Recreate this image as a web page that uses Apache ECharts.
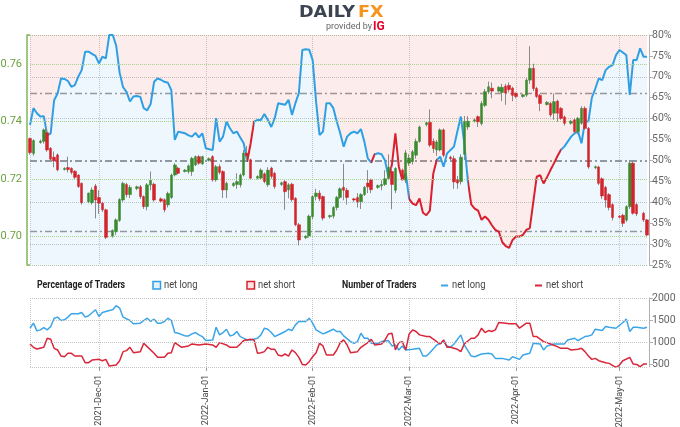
<!DOCTYPE html>
<html><head><meta charset="utf-8">
<script src="https://cdn.jsdelivr.net/npm/echarts@6/dist/echarts.min.js"></script>
<style>html,body{margin:0;padding:0;background:#fff}#c{width:680px;height:427px}</style>
</head><body><div id="c"></div>
<script>
// ---- categories: calendar days 2021-11-11 .. 2022-05-09 ----
const MON = ['Jan','Feb','Mar','Apr','May','Jun','Jul','Aug','Sep','Oct','Nov','Dec'];
const startDay = Date.UTC(2021, 10, 11);
const dayCount = 180;
const days = [];
for (let i = 0; i < dayCount; i++) {
  const d = new Date(startDay + i * 864e5);
  days.push(d.getUTCFullYear() + '-' + MON[d.getUTCMonth()] + '-' + String(d.getUTCDate()).padStart(2, '0'));
}

// ---- price candles [dayIndex, open, close, low, high] ----
const candles = [
[0,.7340,.7291,.7284,.7343],[1,.7288,.7333,.7280,.7337],[3,.7326,.7331,.7322,.7336],[4,.7330,.7370,.7322,.7375],
[5,.7360,.7300,.7294,.7376],[6,.7306,.7268,.7262,.7310],[7,.7275,.7262,.7240,.7295],[8,.7283,.7231,.7226,.7288],
[10,.7232,.7236,.7229,.7240],[11,.7239,.7232,.7222,.7277],[12,.7236,.7222,.7215,.7240],[13,.7226,.7205,.7198,.7230],
[14,.7213,.7173,.7168,.7216],[15,.7184,.7117,.7110,.7187],[17,.7120,.7150,.7115,.7152],[18,.7117,.7161,.7110,.7170],
[19,.7175,.7126,.7062,.7182],[20,.7135,.7115,.7078,.7160],[21,.7115,.7092,.7085,.7120],[22,.7092,.6996,.6990,.7096],
[24,.7000,.7020,.6995,.7024],[25,.7016,.7057,.7005,.7062],[26,.7055,.7128,.7050,.7132],[27,.7126,.7184,.7120,.7190],
[28,.7180,.7145,.7135,.7186],[29,.7145,.7170,.7133,.7178],[31,.7166,.7172,.7160,.7176],[32,.7172,.7138,.7130,.7178],
[33,.7138,.7103,.7095,.7142],[34,.7103,.7179,.7090,.7185],[35,.7178,.7195,.7160,.7225],[36,.7181,.7126,.7120,.7186],
[38,.7130,.7122,.7118,.7135],[39,.7127,.7092,.7083,.7132],[40,.7109,.7149,.7100,.7155],[41,.7135,.7213,.7130,.7218],
[42,.7213,.7248,.7208,.7254],[43,.7237,.7219,.7215,.7242],[45,.7225,.7230,.7222,.7234],[46,.7225,.7245,.7218,.7250],
[47,.7225,.7271,.7210,.7276],[48,.7248,.7277,.7244,.7281],[49,.7277,.7254,.7248,.7282],[50,.7252,.7277,.7248,.7280],
[52,.7264,.7270,.7260,.7274],[53,.7277,.7196,.7190,.7282],[54,.7196,.7242,.7190,.7248],[55,.7242,.7222,.7215,.7250],
[56,.7225,.7161,.7133,.7230],[57,.7161,.7184,.7133,.7190],[59,.7176,.7184,.7172,.7188],[60,.7180,.7190,.7165,.7219],
[61,.7179,.7213,.7170,.7218],[62,.7213,.7289,.7208,.7300],[63,.7289,.7280,.7265,.7314],[64,.7266,.7202,.7196,.7270],
[66,.7202,.7208,.7198,.7212],[67,.7202,.7230,.7196,.7236],[68,.7217,.7190,.7184,.7222],[69,.7179,.7230,.7172,.7240],
[70,.7237,.7208,.7200,.7242],[71,.7219,.7173,.7165,.7224],[73,.7180,.7186,.7175,.7190],[74,.7190,.7155,.7092,.7195],
[75,.7161,.7179,.7132,.7185],[76,.7181,.7127,.7120,.7186],[77,.7132,.7040,.7035,.7136],[78,.7040,.6987,.6968,.7046],
[80,.6995,.7000,.6990,.7003],[81,.7001,.7070,.6995,.7075],[82,.7068,.7138,.7060,.7142],[83,.7138,.7150,.7125,.7165],
[84,.7150,.7130,.7122,.7160],[85,.7138,.7063,.7055,.7142],[87,.7068,.7072,.7062,.7075],[88,.7070,.7100,.7062,.7105],
[89,.7100,.7135,.7090,.7140],[90,.7135,.7165,.7130,.7170],[91,.7170,.7160,.7125,.7252],[92,.7160,.7135,.7110,.7168],
[94,.7130,.7126,.7120,.7134],[95,.7135,.7120,.7100,.7150],[96,.7120,.7145,.7095,.7150],[97,.7145,.7170,.7140,.7175],
[98,.7185,.7172,.7150,.7230],[99,.7196,.7162,.7150,.7200],[101,.7170,.7176,.7165,.7180],[102,.7175,.7180,.7160,.7195],
[103,.7180,.7200,.7175,.7230],[104,.7200,.7240,.7195,.7285],[105,.7225,.7180,.7094,.7240],[106,.7160,.7236,.7150,.7240],
[108,.7230,.7200,.7195,.7235],[109,.7195,.7290,.7185,.7300],[110,.7254,.7272,.7245,.7285],[111,.7260,.7294,.7250,.7300],
[112,.7282,.7330,.7270,.7340],[113,.7330,.7380,.7325,.7385],[115,.7388,.7395,.7382,.7400],[116,.7396,.7317,.7310,.7441],
[117,.7330,.7305,.7290,.7340],[118,.7300,.7328,.7280,.7335],[119,.7300,.7370,.7295,.7375],[120,.7370,.7282,.7275,.7375],
[122,.7275,.7270,.7265,.7280],[123,.7270,.7189,.7165,.7280],[124,.7196,.7185,.7165,.7210],[125,.7190,.7275,.7180,.7285],
[126,.7285,.7400,.7265,.7418],[127,.7380,.7400,.7370,.7418],[129,.7400,.7405,.7396,.7410],[130,.7416,.7398,.7380,.7420],
[131,.7392,.7462,.7385,.7470],[132,.7455,.7503,.7450,.7512],[133,.7503,.7520,.7495,.7538],[134,.7515,.7505,.7480,.7535],
[136,.7505,.7518,.7500,.7522],[137,.7500,.7518,.7470,.7530],[138,.7522,.7498,.7457,.7530],[139,.7525,.7510,.7500,.7535],
[140,.7515,.7490,.7470,.7520],[141,.7497,.7486,.7480,.7500],[143,.7486,.7492,.7482,.7496],[144,.7491,.7543,.7485,.7550],
[145,.7543,.7584,.7530,.7661],[146,.7584,.7514,.7505,.7600],[147,.7514,.7486,.7480,.7520],[148,.7490,.7462,.7435,.7495],
[150,.7458,.7466,.7455,.7470],[151,.7462,.7422,.7415,.7468],[152,.7428,.7468,.7405,.7497],[153,.7470,.7428,.7398,.7475],
[154,.7445,.7410,.7405,.7450],[155,.7415,.7393,.7385,.7420],[157,.7393,.7400,.7388,.7405],[158,.7405,.7364,.7358,.7410],
[159,.7364,.7410,.7355,.7415],[160,.7393,.7445,.7388,.7452],[161,.7445,.7375,.7370,.7452],[162,.7375,.7241,.7235,.7380],
[164,.7238,.7242,.7234,.7246],[165,.7241,.7184,.7178,.7245],[166,.7200,.7140,.7130,.7205],[167,.7170,.7126,.7100,.7175],
[168,.7145,.7100,.7090,.7150],[169,.7110,.7065,.7055,.7115],[171,.7070,.7066,.7062,.7074],[172,.7073,.7045,.7033,.7078],
[173,.7056,.7103,.7050,.7108],[174,.7103,.7254,.7095,.7265],[175,.7254,.7080,.7075,.7265],[176,.7110,.7078,.7070,.7115],
[178,.7080,.7057,.7050,.7085],[179,.7057,.7004,.6996,.7060]
];

// ---- % of traders net long [dayIndex, percent] ----
const pctLong = [[0,58.5],[1,62.5],[2,61.3],[3,60.5],[4,60.6],[5,56.0],[6,56.5],[7,64.4],[8,66.0],[9,69.6],[10,69.5],[11,69.0],[12,67.6],[13,68.0],[14,70.0],[15,71.6],[16,76.0],[17,76.0],[18,75.5],[19,75.0],[20,73.2],[21,74.8],[22,74.4],[23,80.0],[24,80.0],[25,77.5],[26,71.0],[27,67.5],[28,66.4],[29,64.1],[30,65.3],[31,65.4],[32,65.2],[33,62.5],[34,62.0],[35,63.5],[36,68.8],[37,69.6],[38,69.3],[39,68.8],[40,68.6],[41,66.8],[42,54.9],[43,56.9],[44,56.7],[45,56.5],[46,56.0],[47,55.7],[48,56.6],[49,55.5],[50,56.5],[51,52.9],[52,52.7],[53,52.5],[54,60.1],[55,54.5],[56,55.7],[57,59.3],[58,57.7],[59,56.5],[60,56.9],[61,55.5],[62,54.1],[63,49.7],[64,54.0],[65,59.3],[66,59.7],[67,59.7],[68,61.1],[69,59.7],[70,58.0],[71,60.1],[72,63.7],[73,63.5],[74,63.3],[75,64.5],[76,60.9],[77,63.7],[78,66.1],[79,76.4],[80,76.6],[81,76.5],[82,74.0],[83,64.0],[84,56.1],[85,56.9],[86,63.7],[87,63.7],[88,62.5],[89,59.3],[90,56.5],[91,53.3],[92,55.7],[93,56.5],[94,56.9],[95,56.5],[96,57.5],[97,54.5],[98,50.5],[99,49.5],[100,51.5],[101,51.7],[102,51.5],[103,50.0],[104,46.0],[105,49.0],[106,56.5],[107,48.5],[108,45.3],[109,47.0],[110,40.8],[111,39.7],[112,39.3],[113,40.9],[114,37.5],[115,36.9],[116,38.0],[117,46.9],[118,50.1],[119,50.9],[120,48.5],[121,51.7],[122,52.5],[123,53.3],[124,57.0],[125,60.5],[126,54.1],[127,45.3],[128,39.5],[129,38.5],[130,38.0],[131,35.8],[132,36.6],[133,35.8],[134,34.5],[135,33.4],[136,33.0],[137,30.5],[138,29.5],[139,29.1],[140,31.0],[141,31.8],[142,31.8],[143,32.2],[144,33.4],[145,33.8],[146,40.0],[147,46.1],[148,46.5],[149,44.5],[150,46.0],[151,47.7],[152,49.3],[153,51.0],[154,52.5],[155,53.3],[156,54.5],[157,55.7],[158,56.5],[159,56.9],[160,54.1],[161,59.3],[162,59.3],[163,65.0],[164,67.2],[165,69.6],[166,69.2],[167,71.6],[168,72.4],[169,72.8],[170,75.2],[171,76.4],[172,75.8],[173,75.2],[174,65.7],[175,74.0],[176,74.0],[177,76.8],[178,74.8],[179,74.8]];

// day-index ranges where the sentiment line is drawn red
const redRanges = [[63,65],[99,100],[104,109],[110,118],[127,154]];

// ---- number of traders [dayIndex, count] ----
const longCount = [[0,1317],[1,1431],[2,1257],[3,1279],[4,1332],[5,1279],[6,1355],[7,1544],[8,1567],[9,1491],[10,1507],[11,1567],[12,1643],[14,1643],[15,1673],[16,1567],[17,1598],[19,1734],[20,1582],[21,1673],[23,1719],[24,1734],[25,1825],[26,1772],[27,1567],[29,1491],[30,1416],[32,1431],[33,1491],[34,1544],[35,1469],[36,1522],[37,1431],[38,1431],[39,1469],[40,1544],[41,1491],[42,1219],[43,1204],[45,1143],[46,1143],[47,1188],[48,1219],[49,1166],[50,1128],[51,1037],[53,1052],[54,1340],[55,1166],[56,1219],[57,1294],[58,1143],[59,1166],[60,1242],[61,1128],[63,1052],[64,1052],[66,1090],[67,1166],[68,1317],[69,1294],[70,1219],[71,1128],[73,1204],[74,1242],[75,1294],[76,1264],[77,1393],[78,1469],[80,1469],[81,1544],[82,1431],[83,1279],[85,1188],[86,1219],[88,1294],[89,1242],[90,1242],[91,1143],[93,1014],[94,976],[95,1014],[96,1204],[97,1090],[98,1090],[99,976],[101,976],[102,1014],[104,1037],[105,916],[106,938],[107,825],[108,916],[109,825],[111,840],[113,862],[114,688],[115,688],[116,764],[118,938],[119,976],[120,1014],[121,916],[122,885],[123,961],[125,1166],[126,938],[128,688],[129,673],[131,734],[133,749],[134,734],[135,635],[137,635],[139,597],[140,673],[142,613],[143,711],[145,749],[146,976],[148,961],[149,825],[150,916],[152,961],[154,961],[155,961],[156,1052],[158,1090],[159,1037],[161,1128],[162,1143],[163,1166],[164,1294],[166,1264],[167,1355],[168,1340],[170,1317],[172,1446],[173,1522],[174,1242],[175,1340],[176,1340],[178,1317],[179,1340]];
const shortCount = [[0,961],[1,885],[2,847],[4,885],[5,1090],[6,1067],[7,862],[8,825],[9,688],[10,673],[11,749],[12,749],[13,688],[15,688],[16,537],[17,537],[18,597],[20,613],[21,582],[22,613],[23,461],[25,484],[26,582],[27,787],[28,810],[29,885],[30,764],[32,787],[33,976],[34,900],[36,749],[37,658],[39,658],[40,749],[41,764],[42,991],[44,885],[46,916],[47,961],[49,938],[51,961],[53,938],[54,885],[55,991],[57,938],[58,885],[60,885],[61,961],[62,1037],[64,1067],[65,1052],[66,749],[67,764],[68,787],[69,885],[70,840],[71,840],[72,711],[73,688],[74,734],[75,688],[76,825],[77,764],[78,658],[79,499],[80,484],[81,560],[82,673],[83,764],[84,976],[85,916],[86,711],[88,711],[89,825],[90,991],[91,1052],[92,938],[93,764],[95,787],[96,885],[98,991],[99,1067],[100,938],[102,961],[103,1052],[104,1188],[105,1204],[106,825],[107,991],[108,1014],[109,825],[110,1188],[111,1279],[112,1242],[113,1166],[115,1128],[116,1128],[118,1014],[119,961],[120,1052],[121,885],[122,885],[124,840],[125,787],[126,961],[128,1090],[129,1090],[130,1166],[131,1317],[132,1219],[133,1264],[134,1242],[135,1279],[136,1446],[138,1431],[139,1416],[141,1416],[142,1317],[144,1431],[145,1431],[146,1128],[147,1128],[149,1014],[150,991],[151,961],[153,900],[154,862],[156,862],[157,825],[159,840],[160,862],[161,787],[162,688],[163,613],[164,635],[165,582],[166,560],[167,537],[168,522],[170,431],[171,484],[172,582],[174,658],[175,507],[176,499],[177,446],[178,507],[179,507]];

// ---- axis ticks ----
const priceTicks = [0.70, 0.72, 0.74, 0.76];
const countTicks = [500, 1000, 1500, 2000];

// ---- styling ----
const BLUE = '#2f9fe4', RED = '#d9202e', GREEN_UP = '#3b8b2e', RED_DN = '#d3232b', WICK = '#8a8a8a';
const FONT = 'Roboto, sans-serif';
const isMonthStart = (i, v) => /-01$/.test(v);
const gridLine = (i, v) => i === 0 || isMonthStart(i, v);

const wickData = candles.map(c => [c[0], c[1], c[2], c[3], c[4]]);
const bodyData = candles.map(c => [c[0], c[1], c[2], Math.min(c[1], c[2]), Math.max(c[1], c[2])]);

const pieces = [];
let prev = -1;
redRanges.forEach(r => {
  pieces.push({ gte: prev, lt: r[0], color: BLUE });
  pieces.push({ gte: r[0], lt: r[1], color: RED });
  prev = r[1];
});
pieces.push({ gte: prev, lte: dayCount, color: BLUE });

const dotted = (c) => ({ type: 'dotted', color: c, width: 1 });
const dashDot = (c, w) => ({ type: [7, 3, 2, 3], color: c, width: w });

const chart = echarts.init(document.getElementById('c'), null, { renderer: 'canvas' });

const xBase = {
  type: 'category', data: days, boundaryGap: false,
  axisLine: { show: false },
  splitLine: { show: true, interval: gridLine, lineStyle: dotted('#c9c9c9') }
};

// text helper for legend/logo (optionally condensed)
const ntext = (x, y, text, font, fill, sx) => ({
  type: 'text', x: x, y: y, scaleX: sx, scaleY: 1, originX: 0, originY: 0,
  style: { text: text, font: font, fill: fill, textVerticalAlign: 'middle' }
});

chart.setOption({
  animation: false,
  backgroundColor: '#fff',
  textStyle: { fontFamily: FONT },
  grid: [
    { left: 30, right: 33, top: 35, height: 230, outerBoundsMode: 'none', containLabel: false },
    { left: 30, right: 33, top: 298, height: 69, outerBoundsMode: 'none', containLabel: false }
  ],
  xAxis: [
    Object.assign({}, xBase, { gridIndex: 0, axisTick: { show: false }, axisLabel: { show: false } }),
    Object.assign({}, xBase, {
      gridIndex: 1,
      axisTick: { show: true, interval: isMonthStart, length: 4, lineStyle: { color: '#999' } },
      axisLabel: { show: true, interval: isMonthStart, rotate: 90, fontSize: 9, color: '#444', margin: 8, fontFamily: FONT }
    })
  ],
  yAxis: [
    { type: 'value', gridIndex: 0, position: 'left', min: 0.69, max: 0.77, offset: 3,
      axisLine: { show: true, lineStyle: { color: '#7fb65a', width: 1.5 } },
      axisTick: { show: true, inside: true, length: 3, customValues: [0.69, 0.77], lineStyle: { color: '#7fb65a', width: 1.5 } },
      axisLabel: { customValues: priceTicks, formatter: v => v.toFixed(2), color: '#6aa23f', fontSize: 11, margin: 5, fontFamily: FONT },
      splitLine: { show: false } },
    { type: 'value', gridIndex: 0, position: 'right', min: 25, max: 80, interval: 5, offset: 2,
      axisLine: { show: true, lineStyle: { color: '#b0b0b0' } },
      axisTick: { show: true, length: 4, lineStyle: { color: '#b0b0b0' } },
      axisLabel: { formatter: '{value}%', color: '#666', fontSize: 10.5, margin: 3, fontFamily: FONT },
      splitLine: { show: false } },
    { type: 'value', gridIndex: 1, position: 'right', min: 440, max: 2000, offset: 2,
      axisLine: { show: true, lineStyle: { color: '#b0b0b0' } },
      axisTick: { show: true, length: 4, customValues: countTicks, lineStyle: { color: '#b0b0b0' } },
      axisLabel: { customValues: countTicks, formatter: v => String(v), color: '#666', fontSize: 10.5, margin: 3, fontFamily: FONT },
      splitLine: { show: false } }
  ],
  visualMap: [{ type: 'piecewise', show: false, dimension: 0, seriesIndex: 2, pieces: pieces }],
  series: [
    { name: 'areaLong', type: 'line', xAxisIndex: 0, yAxisIndex: 1, data: pctLong, symbol: 'none', silent: true, z: 1,
      lineStyle: { width: 0, opacity: 0 }, areaStyle: { origin: 'start', color: 'rgba(40,150,230,0.11)' },
      markLine: { silent: true, symbol: 'none', label: { show: false }, z: 1,
        data: [
          { yAxis: 30, lineStyle: dotted('#c4c4c4') }, { yAxis: 40, lineStyle: dotted('#c4c4c4') },
          { yAxis: 60, lineStyle: dotted('#c4c4c4') }, { yAxis: 70, lineStyle: dotted('#c4c4c4') },
          { yAxis: 80, lineStyle: dotted('#b4c4a8') }, { yAxis: 25, lineStyle: dotted('#b4c4a8') },
          { yAxis: 33, lineStyle: dashDot('#9a9a9a', 1.3) }, { yAxis: 66, lineStyle: dashDot('#9a9a9a', 1.3) },
          { yAxis: 50, lineStyle: dashDot('#7a7a7a', 1.6) }
        ] } },
    { name: 'areaShort', type: 'line', xAxisIndex: 0, yAxisIndex: 1, data: pctLong, symbol: 'none', silent: true, z: 1,
      lineStyle: { width: 0, opacity: 0 }, areaStyle: { origin: 'end', color: 'rgba(240,90,90,0.16)' } },
    { name: 'pctLine', type: 'line', xAxisIndex: 0, yAxisIndex: 1, data: pctLong, symbol: 'none', z: 3,
      lineStyle: { width: 2 } },
    { name: 'wick', type: 'candlestick', xAxisIndex: 0, yAxisIndex: 0, data: wickData, barWidth: 1, z: 4,
      encode: { x: 0, y: [1, 2, 3, 4] },
      itemStyle: { color: WICK, color0: WICK, borderColor: WICK, borderColor0: WICK, borderWidth: 1 },
      markLine: { silent: true, symbol: 'none', label: { show: false },
        data: priceTicks.map(v => ({ yAxis: v, lineStyle: dotted('#a9d18e') })) } },
    { name: 'body', type: 'candlestick', xAxisIndex: 0, yAxisIndex: 0, data: bodyData, barWidth: 3, z: 5,
      encode: { x: 0, y: [1, 2, 3, 4] },
      itemStyle: { color: GREEN_UP, color0: RED_DN, borderColor: GREEN_UP, borderColor0: RED_DN, borderWidth: 0.5 } },
    { name: 'longCount', type: 'line', xAxisIndex: 1, yAxisIndex: 2, data: longCount, symbol: 'none', z: 3,
      lineStyle: { width: 1.5, color: '#3aa6e8' },
      markLine: { silent: true, symbol: 'none', label: { show: false },
        data: [2000, 1500, 1000, 440].map(v => ({ yAxis: v, lineStyle: dotted('#c4c4c4') })) } },
    { name: 'shortCount', type: 'line', xAxisIndex: 1, yAxisIndex: 2, data: shortCount, symbol: 'none', z: 3,
      lineStyle: { width: 1.5, color: '#d9263a' } }
  ],
  graphic: [
    // DailyFX logo
    ntext(299, 13, 'DAILY', 'bold 16px "DejaVu Sans", sans-serif', '#3c4451', 1.1),
    ntext(358, 13, 'FX', 'bold 16px "DejaVu Sans", sans-serif', '#f7941d', 1.1),
    ntext(326, 26.5, 'provided by', '9px Roboto, sans-serif', '#666', 1.0),
    ntext(373, 26.5, 'IG', 'bold 12px Roboto, sans-serif', '#e4002b', 1.0),
    // legend row
    ntext(37, 285.5, 'Percentage of Traders', 'bold 11px Roboto, sans-serif', '#222', 0.8),
    { type: 'rect', shape: { x: 153, y: 281.5, width: 7.5, height: 7.5 }, style: { fill: '#e3f2fc', stroke: BLUE, lineWidth: 1.5 } },
    ntext(164, 285.5, 'net long', '11px Roboto, sans-serif', '#444', 0.85),
    { type: 'rect', shape: { x: 247, y: 281.5, width: 7.5, height: 7.5 }, style: { fill: '#fce4e4', stroke: RED, lineWidth: 1.5 } },
    ntext(258, 285.5, 'net short', '11px Roboto, sans-serif', '#444', 0.85),
    ntext(342, 285.5, 'Number of Traders', 'bold 11px Roboto, sans-serif', '#222', 0.8),
    { type: 'line', shape: { x1: 441, y1: 285.5, x2: 448, y2: 285.5 }, style: { stroke: '#3aa6e8', lineWidth: 2 } },
    ntext(452, 285.5, 'net long', '11px Roboto, sans-serif', '#444', 0.85),
    { type: 'line', shape: { x1: 535, y1: 285.5, x2: 542, y2: 285.5 }, style: { stroke: '#d9263a', lineWidth: 2 } },
    ntext(546, 285.5, 'net short', '11px Roboto, sans-serif', '#444', 0.85)
  ]
});
</script></body></html>
